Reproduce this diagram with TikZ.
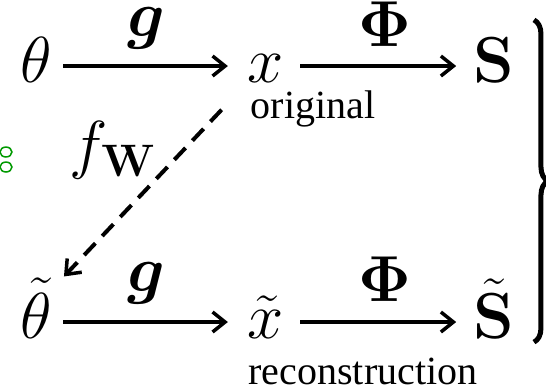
\RequirePackage{fix-cm}
\documentclass[tikz,border=0pt]{standalone}
\usepackage{amsmath,amssymb}
\usepackage[no-math]{fontspec}
\setmainfont{Liberation Serif}
\usetikzlibrary{arrows.meta,decorations.pathreplacing}

\newcommand{\diagfont}{\fontsize{26}{31}\selectfont}

\begin{document}
\begin{tikzpicture}[scale=1.0,
    var/.style={inner sep=0pt, font=\diagfont, text height=12.8pt, text depth=0pt},
    lbl/.style={inner sep=0pt, font=\diagfont},
    captext/.style={inner sep=0pt, font=\fontsize{16}{19}\selectfont},
    map/.style={line width=1.6pt, -{Straight Barb[length=5pt,width=8pt,line width=1.4pt]}},
    learned/.style={map, dash pattern=on 6.5pt off 4pt}]
    \useasboundingbox (0,0) rectangle (7.676,-5.469);

    % Top row: parameters -> signal -> scattering
    \node[var] (theta) at (0.513, -0.928) {$\theta$};
    \node[var] (x) at (3.739, -0.928) {$x$};
    \node[var] (S) at (6.945, -0.928) {$\mathbf{S}$};
    \draw[map, shorten <=4.2pt, shorten >=7.8pt] (theta) -- (x);
    \draw[map, shorten <=6.2pt, shorten >=6.8pt] (x) -- (S);
    \node[lbl] (g1) at (2.052, -0.394) {$\boldsymbol{g}$};
    \node[lbl] (phi1) at (5.412, -0.337) {$\boldsymbol{\Phi}$};
    \node[captext] (orig) at (4.400, -1.53) {original};

    % Bottom row: reconstruction
    \node[var] (thetat) at (0.513, -4.527) {$\tilde{\theta}$};
    \node[var] (xt) at (3.739, -4.527) {$\tilde{x}$};
    \node[var] (St) at (6.945, -4.527) {$\tilde{\mathbf{S}}$};
    \draw[map, shorten <=4.2pt, shorten >=7.8pt] (thetat) -- (xt);
    \draw[map, shorten <=6.2pt, shorten >=6.8pt] (xt) -- (St);
    \node[lbl] (g2) at (2.052, -3.978) {$\boldsymbol{g}$};
    \node[lbl] (phi2) at (5.412, -3.922) {$\boldsymbol{\Phi}$};
    \node[captext] (rec) at (5.103, -5.216) {reconstruction};

    % Learned inverse
    \draw[learned, shorten <=15pt, shorten >=16pt] (x.south west) -- (thetat.north);
    \node[lbl] (fw) at (1.589, -2.109) {$f_{\mathbf{W}}$};

    % Brace grouping S and S tilde
    \draw[line width=2pt, decorate, decoration={brace, amplitude=5.6pt}]
        (7.507, -0.28) -- (7.507, -4.81);

    % Green marks cut at the left edge
    \draw[green!60!black, line width=0.6pt] (0.084, -2.137) ellipse (0.084 and 0.07);
    \draw[green!60!black, line width=0.6pt] (0.084, -2.348) ellipse (0.084 and 0.07);
\end{tikzpicture}
\end{document}
